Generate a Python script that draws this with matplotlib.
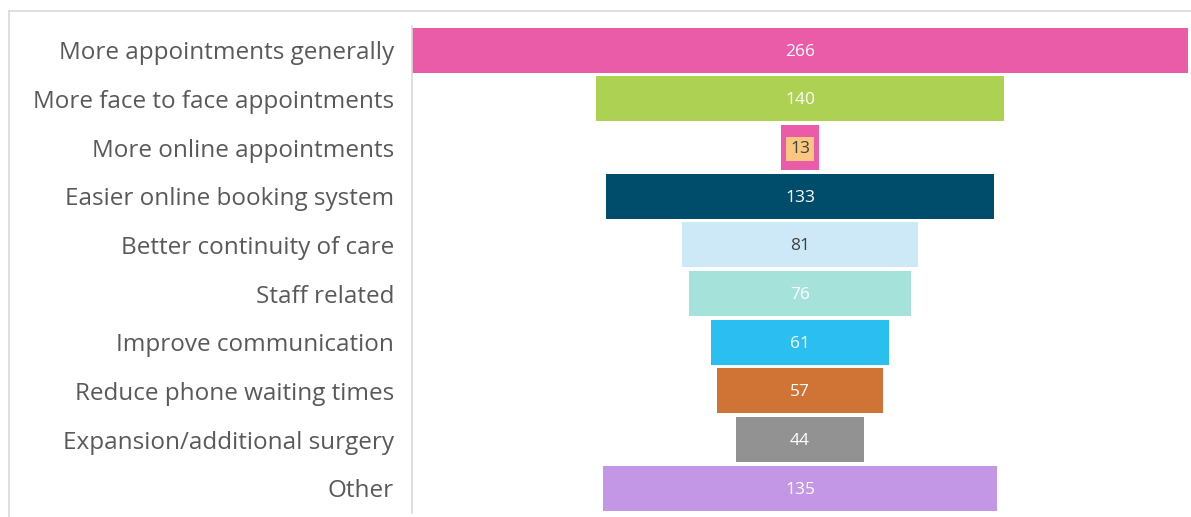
import matplotlib.pyplot as plt
from matplotlib.lines import Line2D

plt.rcParams['font.family'] = ['Open Sans', 'DejaVu Sans']

categories = ['More appointments generally', 'More face to face appointments',
              'More online appointments', 'Easier online booking system',
              'Better continuity of care', 'Staff related', 'Improve communication',
              'Reduce phone waiting times', 'Expansion/additional surgery', 'Other']
counts = [266, 140, 13, 133, 81, 76, 61, 57, 44, 135]
colors = ['#EA5CA7', '#ADD153', '#EA5CA7', '#004C6B', '#CDE9F7',
          '#A5E3DA', '#2BBEF0', '#D07436', '#929292', '#C497E6']
label_colors = ['white', 'white', '#404040', 'white', '#404040',
                'white', 'white', 'white', 'white', 'white']

fig = plt.figure(figsize=(11.91, 5.17), dpi=100)
ax = fig.add_axes([0.346, 0.0087, 0.6515, 0.9413])

ypos = list(range(len(categories)))
ax.barh(ypos, counts, left=[-c / 2 for c in counts], height=0.93, color=colors)

for y, c, tc in zip(ypos, counts, label_colors):
    if c < 20:
        # narrow bar gets a boxed label
        ax.text(0, y + 0.03, str(c), ha='center', va='center', fontsize=12.5, color=tc,
                bbox=dict(boxstyle='square,pad=0.22', facecolor='#F9C77F', edgecolor='none'))
    else:
        ax.text(0, y + 0.03, str(c), ha='center', va='center', fontsize=12.5, color=tc)

ax.set_xlim(-max(counts) / 2, max(counts) / 2)
ax.set_ylim(len(categories) - 0.5, -0.5)
ax.set_yticks(ypos)
ax.set_yticklabels(categories, fontsize=17.5, color='#595959')
ax.tick_params(axis='y', length=0, pad=13)
ax.set_xticks([])
for s in ['top', 'right', 'bottom']:
    ax.spines[s].set_visible(False)
ax.spines['left'].set_color('#D9D9D9')
ax.spines['left'].set_linewidth(1.2)

# outer frame lines
fig.add_artist(Line2D([9 / 1191, 9 / 1191], [0, 1 - 11 / 517], color='#D9D9D9', lw=1.2))
fig.add_artist(Line2D([9 / 1191, 1], [1 - 11 / 517, 1 - 11 / 517], color='#D9D9D9', lw=1.2))

fig.savefig('out.png', dpi=100)
